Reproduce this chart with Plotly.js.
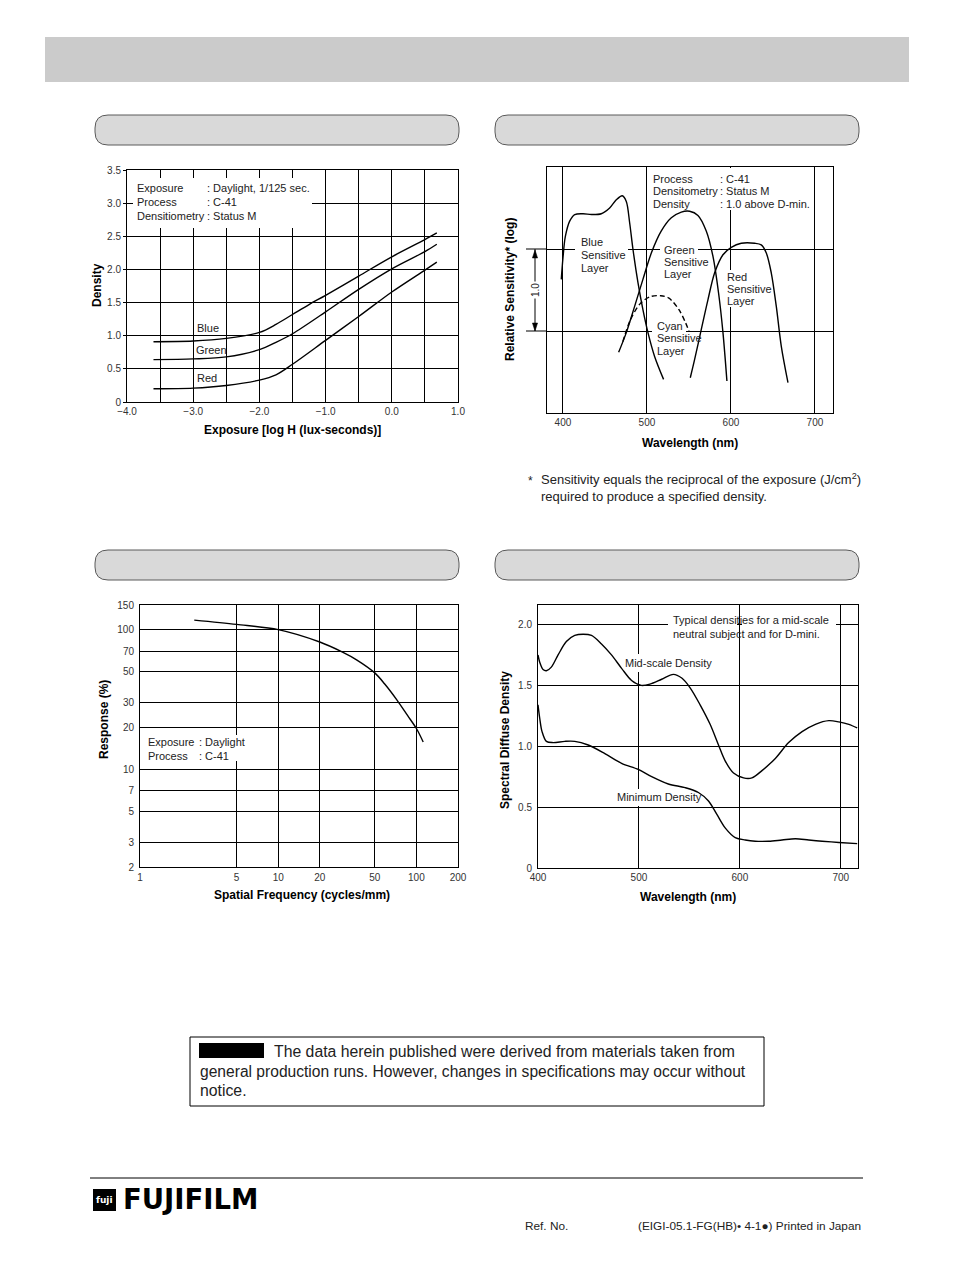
<!DOCTYPE html>
<html>
<head>
<meta charset="utf-8">
<script src="https://cdn.plot.ly/plotly-3.0.1.min.js"></script>
<style>
  html, body { margin: 0; padding: 0; background: #ffffff; }
  #page { width: 954px; height: 1274px; }
</style>
</head>
<body>
<div id="page"></div>
<script>
// Characteristic curves (log H vs density)
const charBlueX = [-3.6, -3.0, -2.5, -2.0, -1.75, -1.5, -1.25, -1.0, -0.5, 0.0, 0.5, 0.68];
const charBlueY = [0.91, 0.92, 0.96, 1.05, 1.17, 1.32, 1.47, 1.61, 1.90, 2.19, 2.45, 2.55];
const charGreenX = [-3.6, -3.0, -2.5, -2.0, -1.75, -1.5, -1.0, -0.5, 0.0, 0.5, 0.68];
const charGreenY = [0.64, 0.65, 0.68, 0.79, 0.90, 1.03, 1.36, 1.70, 2.01, 2.27, 2.38];
const charRedX = [-3.6, -3.0, -2.5, -2.0, -1.75, -1.5, -1.0, -0.5, 0.0, 0.5, 0.68];
const charRedY = [0.20, 0.21, 0.25, 0.33, 0.41, 0.57, 0.93, 1.29, 1.66, 1.99, 2.11];
const charXTicks = [-4.0, -3.5, -3.0, -2.5, -2.0, -1.5, -1.0, -0.5, 0.0, 0.5, 1.0];
const charXLabels = ['\u22124.0', '', '\u22123.0', '', '\u22122.0', '', '\u22121.0', '', '0.0', '', '1.0'];
const charYTicks = [0, 0.5, 1.0, 1.5, 2.0, 2.5, 3.0, 3.5];
const charYLabels = ['0', '0.5', '1.0', '1.5', '2.0', '2.5', '3.0', '3.5'];

// Spectral sensitivity curves (wavelength vs relative log sensitivity)
const sensBlueX = [398, 400, 402.8, 408, 414, 424, 434, 445.6, 455.6, 463.5, 470.6, 475.4, 479.4, 483.3, 489.3, 495.2, 501.2, 509.1, 519.8];
const sensBlueY = [1.63, 1.89, 2.15, 2.34, 2.42, 2.43, 2.42, 2.43, 2.50, 2.60, 2.65, 2.58, 2.32, 2.00, 1.59, 1.26, 0.98, 0.69, 0.41];
const sensGreenX = [466.3, 475.4, 485.3, 495.2, 505.2, 517.1, 529, 540.9, 550.8, 560.7, 570.6, 578.6, 585.3, 590.5, 595.2];
const sensGreenY = [0.74, 0.98, 1.30, 1.63, 1.95, 2.22, 2.38, 2.45, 2.46, 2.41, 2.22, 1.91, 1.46, 0.98, 0.39];
const sensCyanX = [471.3, 480.5, 492.5, 504.4, 516.3, 526.2, 538.1, 546, 550];
const sensCyanY = [0.87, 1.14, 1.34, 1.42, 1.43, 1.40, 1.26, 1.10, 1.00];
const sensRedX = [551.6, 556.7, 564.7, 572.6, 580.6, 590.5, 600.4, 612.3, 628.2, 636.1, 642.1, 648, 654, 660, 667.9];
const sensRedY = [0.43, 0.65, 1.02, 1.38, 1.71, 1.93, 2.02, 2.07, 2.07, 2.05, 1.95, 1.71, 1.30, 0.81, 0.37];
const sensXTicks = [400, 500, 600, 700];
const sensYTicks = [1, 2];

// MTF curve
const mtfFreq = [2.47, 5, 10, 20, 29.2, 36.9, 50, 59, 72.4, 86.5, 100, 112];
const mtfResponse = [117, 109, 100, 81.5, 69, 60.8, 49, 40.8, 31.3, 24.2, 19.6, 15.7];
const mtfXTicks = [1, 5, 10, 20, 50, 100, 200];
const mtfYTicks = [2, 3, 5, 7, 10, 20, 30, 50, 70, 100, 150];

// Spectral dye density curves
const midWave = [400, 401.7, 405, 408.3, 413.2, 419.9, 428.1, 436.4, 444.7, 453, 462.9, 472.8, 482.8, 492.7, 502.3, 510.9, 522.5, 534.1, 542.4, 550.7, 560.6, 570.5, 578.8, 585.4, 593.7, 603.6, 611.9, 621.9, 635.1, 648.3, 661.6, 674.8, 688.1, 698, 707.9, 716.2];
const midDensity = [1.75, 1.69, 1.63, 1.62, 1.65, 1.75, 1.86, 1.91, 1.92, 1.91, 1.84, 1.75, 1.64, 1.54, 1.50, 1.51, 1.55, 1.59, 1.56, 1.48, 1.34, 1.18, 1.01, 0.88, 0.78, 0.74, 0.74, 0.80, 0.90, 1.03, 1.12, 1.18, 1.21, 1.20, 1.18, 1.15];
const minWave = [400, 401.7, 404, 408.3, 414.9, 426.5, 436.4, 449.7, 466.2, 482.8, 499.3, 512.6, 529.1, 545.7, 558.9, 568.9, 577.2, 585.4, 595.4, 605.3, 615.2, 628.5, 641.7, 655, 668.2, 681.5, 698, 716.2];
const minDensity = [1.34, 1.23, 1.12, 1.04, 1.03, 1.04, 1.04, 1.01, 0.94, 0.86, 0.81, 0.75, 0.69, 0.66, 0.62, 0.55, 0.44, 0.33, 0.25, 0.23, 0.22, 0.22, 0.23, 0.24, 0.23, 0.22, 0.21, 0.20];
const dyeXTicks = [400, 500, 600, 700];
const dyeYTicks = [0, 0.5, 1.0, 1.5, 2.0];
const dyeYLabels = ['0', '0.5', '1.0', '1.5', '2.0'];

const W = 954;
const H = 1274;
const FONT = '"Liberation Sans", Arial, Helvetica, sans-serif';
const TICK_COLOR = '#333333';

function px(x) { return x / W; }
function py(y) { return 1 - y / H; }

function baseAxis(extra) {
  return Object.assign({
    showline: true,
    mirror: true,
    linecolor: '#000000',
    linewidth: 1,
    showgrid: true,
    gridcolor: '#000000',
    gridwidth: 1,
    zeroline: false,
    ticks: 'outside',
    ticklen: 3,
    tickcolor: 'rgba(0,0,0,0)',
    tickfont: { family: FONT, size: 10, color: TICK_COLOR },
    fixedrange: true
  }, extra);
}

function xAxis(extra) {
  return baseAxis(Object.assign({ ticks: '' }, extra));
}

function curve(x, y, xaxis, yaxis, dash) {
  return {
    type: 'scatter',
    mode: 'lines',
    x: x,
    y: y,
    xaxis: xaxis,
    yaxis: yaxis,
    line: { color: '#000000', width: 1.4, shape: 'spline', smoothing: 0.9, dash: dash || 'solid' },
    hoverinfo: 'skip',
    showlegend: false
  };
}

function text(content, x, y, opts) {
  const o = opts || {};
  return {
    xref: 'paper',
    yref: 'paper',
    x: px(x),
    y: py(y),
    xanchor: o.anchor || 'left',
    yanchor: 'middle',
    text: content,
    showarrow: false,
    textangle: o.angle || 0,
    bgcolor: o.bg || 'rgba(0,0,0,0)',
    borderpad: o.pad || 0,
    font: { family: o.family || FONT, size: o.size || 11, color: o.color || '#222222' }
  };
}

function lines(list, x, yTop, dy, opts) {
  return list.map((t, i) => text(t, x, yTop + i * dy, opts));
}

function axisTitle(content, x, y, angle) {
  return text('<b>' + content + '</b>', x, y, { anchor: 'center', angle: angle || 0, size: 12, color: '#000000' });
}

function box(x0, y0, x1, y1, fill, lineColor) {
  return {
    type: 'rect',
    xref: 'paper',
    yref: 'paper',
    x0: px(x0), x1: px(x1), y0: py(y1), y1: py(y0),
    fillcolor: fill,
    line: { width: lineColor ? 1 : 0, color: lineColor || fill },
    layer: 'above'
  };
}

function pill(x0, y0, x1, y1, r) {
  const p = (x, y) => px(x) + ',' + py(y);
  return {
    type: 'path',
    xref: 'paper',
    yref: 'paper',
    path: 'M ' + p(x0 + r, y0) + ' L ' + p(x1 - r, y0) + ' Q ' + p(x1, y0) + ' ' + p(x1, y0 + r) +
      ' L ' + p(x1, y1 - r) + ' Q ' + p(x1, y1) + ' ' + p(x1 - r, y1) +
      ' L ' + p(x0 + r, y1) + ' Q ' + p(x0, y1) + ' ' + p(x0, y1 - r) +
      ' L ' + p(x0, y0 + r) + ' Q ' + p(x0, y0) + ' ' + p(x0 + r, y0) + ' Z',
    fillcolor: '#d9d9d9',
    line: { color: '#5a5a5a', width: 1 },
    layer: 'below'
  };
}

function hline(x0, x1, y, color, width) {
  return {
    type: 'line', xref: 'paper', yref: 'paper',
    x0: px(x0), x1: px(x1), y0: py(y), y1: py(y),
    line: { color: color || '#000000', width: width || 1 },
    layer: 'above'
  };
}

// arrowhead on the 1.0 bracket, tip at pixel (x, yTip), pointing up (dir=-1) or down (dir=1)
function arrowHead(x, yTip, dir) {
  const p = (a, b) => px(a) + ',' + py(b);
  return {
    type: 'path', xref: 'paper', yref: 'paper',
    path: 'M ' + p(x, yTip) + ' L ' + p(x - 2.6, yTip - dir * 8) + ' L ' + p(x + 2.6, yTip - dir * 8) + ' Z',
    fillcolor: '#000000',
    line: { width: 0.5, color: '#000000' },
    layer: 'above'
  };
}

const data = [
  curve(charBlueX, charBlueY, 'x', 'y'),
  curve(charGreenX, charGreenY, 'x', 'y'),
  curve(charRedX, charRedY, 'x', 'y'),
  curve(sensBlueX, sensBlueY, 'x2', 'y2'),
  curve(sensGreenX, sensGreenY, 'x2', 'y2'),
  curve(sensCyanX, sensCyanY, 'x2', 'y2', '5px,3px'),
  curve(sensRedX, sensRedY, 'x2', 'y2'),
  curve(mtfFreq, mtfResponse, 'x3', 'y3'),
  curve(midWave, midDensity, 'x4', 'y4'),
  curve(minWave, minDensity, 'x4', 'y4')
];

const shapes = [
  box(45, 37, 909, 82, '#cbcbcb'),
  pill(95, 115, 459, 145, 13),
  pill(495, 115, 859, 145, 13),
  pill(95, 550, 459, 580, 13),
  pill(495, 550, 859, 580, 13),
  // white boxes behind chart notes
  box(133, 178, 312, 228, '#ffffff'),
  box(649, 168, 813, 210, '#ffffff'),
  box(142, 735, 244, 761, '#ffffff'),
  box(668, 618, 737, 629, '#ffffff'),
  box(742, 618, 836, 629, '#ffffff'),
  box(636, 654, 643, 672, '#ffffff'),
  box(636, 789, 643, 806, '#ffffff'),
  // gaps in the sensitivity grid behind layer labels
  box(575, 245, 628, 254, '#ffffff'),
  box(660, 245, 698, 254, '#ffffff'),
  box(727, 270, 736, 307, '#ffffff'),
  box(652, 328, 686, 335, '#ffffff'),
  // reference lines that run left of the sensitivity plot, and the 1.0 bracket
  { type: 'line', xref: 'paper', yref: 'y2', x0: px(526), x1: px(547), y0: 2, y1: 2, line: { color: '#000', width: 1 } },
  { type: 'line', xref: 'paper', yref: 'y2', x0: px(526), x1: px(547), y0: 1, y1: 1, line: { color: '#000', width: 1 } },
  { type: 'line', xref: 'paper', yref: 'y2', x0: px(535), x1: px(535), y0: 1, y1: 2, line: { color: '#000', width: 1 } },
  arrowHead(535, 250, -1),
  arrowHead(535, 331, 1),
  // notice box
  box(190, 1037, 764, 1106, 'rgba(0,0,0,0)', '#000000'),
  box(199, 1043, 264, 1058, '#000000'),
  // footer rule and logo mark
  hline(90, 863, 1178, '#000000', 1),
  box(93, 1189, 116, 1211, '#000000')
];

const annotations = [
  // characteristic curves
  ...lines(['Exposure', 'Process', 'Densitiometry'], 136, 188, 13.8),
  ...lines([': Daylight, 1/125 sec.', ': C-41', ': Status M'], 206, 188, 13.8),
  text('Blue', 196, 328),
  text('Green', 195, 350),
  text('Red', 196, 378),
  axisTitle('Density', 97, 285, -90),
  axisTitle('Exposure [log H (lux-seconds)]', 292, 430),

  // spectral sensitivity
  ...lines(['Process', 'Densitometry', 'Density'], 652, 179, 12.4),
  ...lines([': C-41', ': Status M', ': 1.0 above D-min.'], 719, 179, 12.4),
  ...lines(['Blue', 'Sensitive', 'Layer'], 580, 242, 12.8),
  ...lines(['Green', 'Sensitive', 'Layer'], 663, 250, 12.2),
  ...lines(['Red', 'Sensitive', 'Layer'], 726, 277, 12.0),
  ...lines(['Cyan', 'Sensitive', 'Layer'], 656, 326, 12.4),
  text('1.0', 535, 290, { anchor: 'center', angle: -90, bg: '#ffffff', size: 10, pad: 1 }),
  axisTitle('Relative Sensitivity* (log)', 510, 290, -90),
  axisTitle('Wavelength (nm)', 690, 443),
  text('*', 527, 481, { size: 12 }),
  text('Sensitivity equals the reciprocal of the exposure (J/cm<sup>2</sup>)', 540, 479, { size: 13 }),
  text('required to produce a specified density.', 540, 496, { size: 13 }),

  // MTF
  ...lines(['Exposure', 'Process'], 147, 742, 14),
  ...lines([': Daylight', ': C-41'], 198, 742, 14),
  axisTitle('Response (%)', 104, 720, -90),
  axisTitle('Spatial Frequency (cycles/mm)', 302, 895),

  // spectral dye density
  ...lines(['Typical densities for a mid-scale', 'neutral subject and for D-mini.'], 672, 620, 14.4),
  text('Mid-scale Density', 624, 663),
  text('Minimum Density', 616, 797),
  axisTitle('Spectral Diffuse Density', 505, 740, -90),
  axisTitle('Wavelength (nm)', 688, 897),

  // notice
  text('The data herein published were derived from materials taken from', 273, 1051, { size: 15.8 }),
  text('general production runs. However, changes in specifications may occur without', 199, 1071, { size: 15.6 }),
  text('notice.', 199, 1090, { size: 15.8 }),

  // footer
  text('<b>fuji</b>', 104.5, 1200, { anchor: 'center', size: 9, color: '#ffffff', family: '"DejaVu Sans", sans-serif' }),
  text('<b>FUJIFILM</b>', 122, 1199, { size: 27.5, color: '#000000', family: '"DejaVu Sans", "Liberation Sans", sans-serif' }),
  text('Ref. No.', 524, 1226, { size: 11.8 }),
  text('(EIGI-05.1-FG(HB)\u2022 4-1\u25CF) Printed in Japan', 862, 1226, { anchor: 'right', size: 11.8 })
];

const layout = {
  width: W,
  height: H,
  margin: { l: 0, r: 0, t: 0, b: 0 },
  paper_bgcolor: '#ffffff',
  plot_bgcolor: '#ffffff',
  showlegend: false,
  font: { family: FONT, color: '#222222' },

  xaxis: xAxis({ domain: [px(127), px(458)], anchor: 'y', range: [-4, 1], tickvals: charXTicks, ticktext: charXLabels, ticklabelstandoff: 0 }),
  yaxis: baseAxis({ domain: [py(402), py(170)], anchor: 'x', range: [0, 3.5], tickvals: charYTicks, ticktext: charYLabels, tickcolor: '#000000' }),

  xaxis2: xAxis({ domain: [px(547), px(833)], anchor: 'y2', range: [381, 721.5], tickvals: sensXTicks }),
  yaxis2: baseAxis({ domain: [py(413), py(167)], anchor: 'x2', range: [0, 3], tickvals: sensYTicks, showticklabels: false }),

  xaxis3: xAxis({ domain: [px(140), px(458)], anchor: 'y3', type: 'log', range: [0, Math.log10(200)], tickvals: mtfXTicks, ticktext: mtfXTicks.map(String), ticklabelstandoff: 1 }),
  yaxis3: baseAxis({ domain: [py(867), py(605)], anchor: 'x3', type: 'log', range: [Math.log10(2), Math.log10(150)], tickvals: mtfYTicks, ticktext: mtfYTicks.map(String) }),

  xaxis4: xAxis({ domain: [px(538), px(858)], anchor: 'y4', range: [400, 717], tickvals: dyeXTicks, ticklabelstandoff: 0 }),
  yaxis4: baseAxis({ domain: [py(868), py(605)], anchor: 'x4', range: [0, 2.16], tickvals: dyeYTicks, ticktext: dyeYLabels }),

  shapes: shapes,
  annotations: annotations
};

Plotly.newPlot('page', data, layout, { staticPlot: true, displayModeBar: false });
</script>
</body>
</html>
